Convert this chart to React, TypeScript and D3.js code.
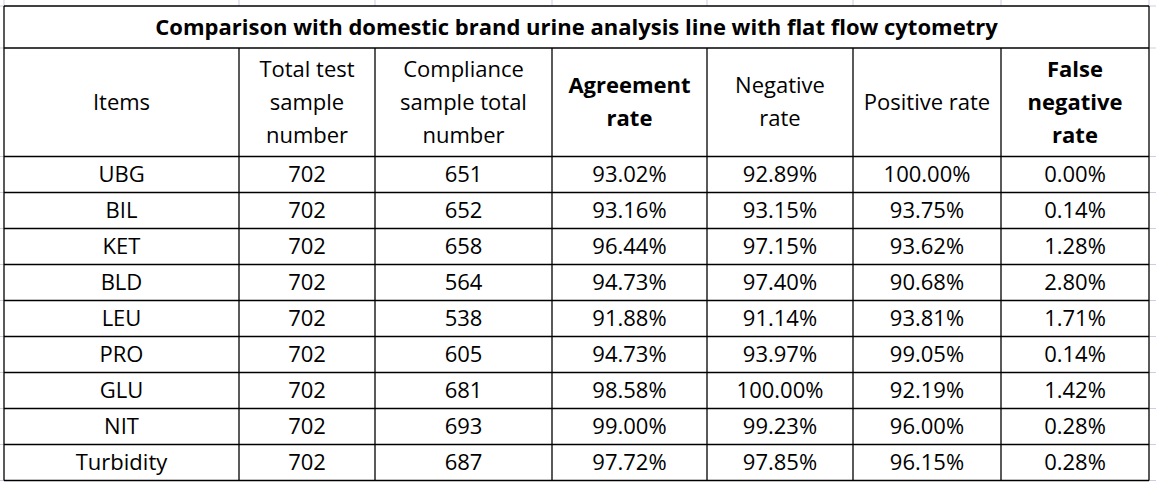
import React from "react";
import * as d3 from "d3";

const title = "Comparison with domestic brand urine analysis line with flat flow cytometry";
const headers: string[][] = [
  ["Items"],
  ["Total test", "sample", "number"],
  ["Compliance", "sample total", "number"],
  ["Agreement", "rate"],
  ["Negative", "rate"],
  ["Positive rate"],
  ["False", "negative", "rate"],
];
const headerBold = [false, false, false, true, false, false, true];
const items = ["UBG", "BIL", "KET", "BLD", "LEU", "PRO", "GLU", "NIT", "Turbidity"];
const totalSamples = [702, 702, 702, 702, 702, 702, 702, 702, 702];
const complianceSamples = [651, 652, 658, 564, 538, 605, 681, 693, 687];
const agreementRate = [93.02, 93.16, 96.44, 94.73, 91.88, 94.73, 98.58, 99.0, 97.72];
const negativeRate = [92.89, 93.15, 97.15, 97.4, 91.14, 93.97, 100.0, 99.23, 97.85];
const positiveRate = [100.0, 93.75, 93.62, 90.68, 93.81, 99.05, 92.19, 96.0, 96.15];
const falseNegativeRate = [0.0, 0.14, 1.28, 2.8, 1.71, 0.14, 1.42, 0.28, 0.28];

const W = 1156;
const H = 489;
const colEdges = [4, 239, 375, 552, 707, 853, 1001, 1149];
const tableTop = 6;
const titleBottom = 48;
const headerBottom = 156.5;
const tableBottom = 480.5;
const font = "'Open Sans', 'Noto Sans', sans-serif";
const fs = 22;
const lineH = 33;
const gridColor = "#c9cfe0";

export default function App() {
  const pct = d3.format(".2f");
  const rows = items.map((it, i) => [
    it,
    String(totalSamples[i]),
    String(complianceSamples[i]),
    pct(agreementRate[i]) + "%",
    pct(negativeRate[i]) + "%",
    pct(positiveRate[i]) + "%",
    pct(falseNegativeRate[i]) + "%",
  ]);
  const y = d3.scaleBand<string>().domain(items).range([headerBottom, tableBottom]);
  const cx = (c: number) => (colEdges[c] + colEdges[c + 1]) / 2;
  const left = colEdges[0];
  const right = colEdges[colEdges.length - 1];
  const rowLines = [tableTop, titleBottom, headerBottom, ...items.map((it) => (y(it) as number) + y.bandwidth())];
  const headerMid = (titleBottom + headerBottom) / 2;

  return (
    <div style={{ position: "fixed", left: 0, top: 0 }}>
      <svg width={W} height={H} style={{ display: "block", background: "#fff" }}>
        {colEdges.map((x, i) => (
          <line key={"gt" + i} x1={x} x2={x} y1={0} y2={tableTop} stroke={gridColor} strokeWidth={1} />
        ))}
        {rowLines.map((yy, i) => (
          <g key={"gl" + i}>
            <line x1={0} x2={left} y1={yy} y2={yy} stroke={gridColor} strokeWidth={1} />
            <line x1={right} x2={W} y1={yy} y2={yy} stroke={gridColor} strokeWidth={1} />
          </g>
        ))}
        {rowLines.map((yy, i) => (
          <line key={"h" + i} x1={left} x2={right} y1={yy} y2={yy} stroke="#000" strokeWidth={1.3} />
        ))}
        {colEdges.map((x, i) => (
          <line
            key={"v" + i}
            x1={x}
            x2={x}
            y1={i === 0 || i === colEdges.length - 1 ? tableTop : titleBottom}
            y2={tableBottom}
            stroke="#000"
            strokeWidth={1.3}
          />
        ))}
        <text
          x={(left + right) / 2}
          y={(tableTop + titleBottom) / 2}
          dy="0.35em"
          textAnchor="middle"
          fontFamily={font}
          fontSize={fs}
          fontWeight="bold"
          fill="#000"
        >
          {title}
        </text>
        {headers.map((lines, c) => (
          <text
            key={"hd" + c}
            textAnchor="middle"
            fontFamily={font}
            fontSize={fs}
            fontWeight={headerBold[c] ? "bold" : "normal"}
            fill="#000"
          >
            {lines.map((ln, k) => (
              <tspan key={k} x={cx(c)} y={headerMid + (k - (lines.length - 1) / 2) * lineH} dy="0.35em">
                {ln}
              </tspan>
            ))}
          </text>
        ))}
        {rows.map((r, i) =>
          r.map((v, c) => (
            <text
              key={i + "-" + c}
              x={cx(c)}
              y={(y(items[i]) as number) + y.bandwidth() / 2}
              dy="0.35em"
              textAnchor="middle"
              fontFamily={font}
              fontSize={fs}
              fill="#000"
            >
              {v}
            </text>
          ))
        )}
      </svg>
    </div>
  );
}
